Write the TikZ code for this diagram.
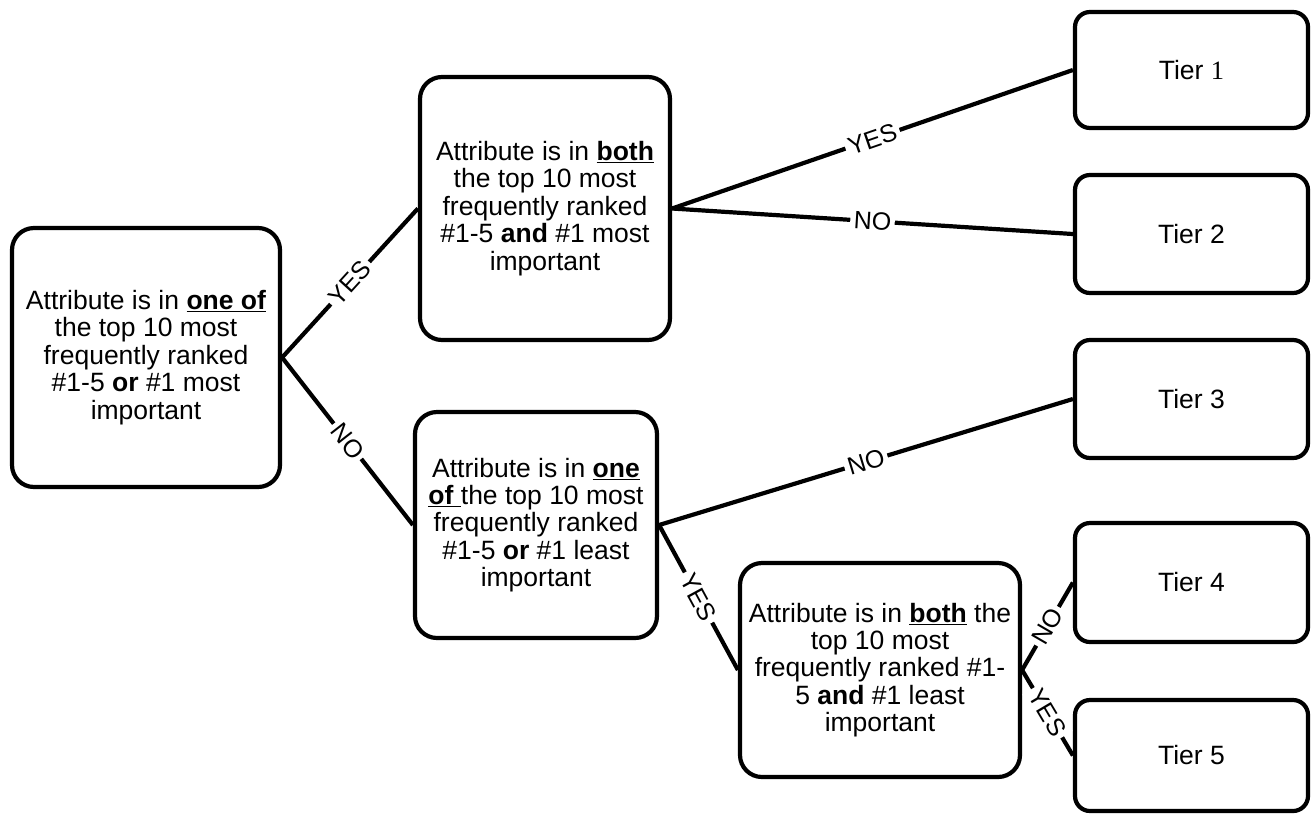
\documentclass[tikz,border=0pt]{standalone}
\usepackage{fontspec}
\setmainfont{Liberation Sans}
\newfontfamily\serifone{Liberation Serif}
\begin{document}
\begin{tikzpicture}[x=1pt,y=-1pt,line width=4.2pt,
  box/.style={draw,rounded corners=22pt,align=center,inner sep=0pt,
    font=\fontsize{26.5}{27.4}\selectfont},
  tier/.style={draw,rounded corners=15pt,minimum width=233pt,inner sep=0pt,
    font=\fontsize{26.5}{27.4}\selectfont},
  lbl/.style={midway,sloped,fill=white,inner sep=3.5pt,
    font=\fontsize{25}{25}\selectfont}]
\useasboundingbox (0,0) rectangle (1314,815);
\node[box,minimum width=268pt,minimum height=259pt] (root) at (146,357.5)
  {Attribute is in \underline{\textbf{one of}}\\the top 10 most\\frequently ranked\\\#1-5 \textbf{or} \#1 most\\important};
\node[box,minimum width=250pt,minimum height=263pt] (A) at (545,208.5)
  {Attribute is in \underline{\textbf{both}}\\the top 10 most\\frequently ranked\\\#1-5 \textbf{and} \#1 most\\important};
\node[box,minimum width=242pt,minimum height=226pt] (B) at (536,525)
  {Attribute is in \underline{\textbf{one}}\\\underline{\textbf{of\ }}the top 10 most\\frequently ranked\\\#1-5 \textbf{or} \#1 least\\important};
\node[box,minimum width=280pt,minimum height=214pt] (C) at (880,670)
  {Attribute is in \underline{\textbf{both}} the\\top 10 most\\frequently ranked \#1-\\5 \textbf{and} \#1 least\\important};
\node[tier,minimum height=116pt] (T1) at (1191.5,70) {Tier {\serifone 1}};
\node[tier,minimum height=118pt] (T2) at (1191.5,234) {Tier 2};
\node[tier,minimum height=118pt] (T3) at (1191.5,399) {Tier 3};
\node[tier,minimum height=119pt] (T4) at (1191.5,582.5) {Tier 4};
\node[tier,minimum height=111pt] (T5) at (1191.5,755.5) {Tier 5};
\draw (root.east) -- node[lbl]{YES} (A.west);
\draw (root.east) -- node[lbl]{NO} (B.west);
\draw (A.east) -- node[lbl]{YES} (T1.west);
\draw (A.east) -- node[lbl]{NO} (T2.west);
\draw (B.east) -- node[lbl]{NO} (T3.west);
\draw (B.east) -- node[lbl]{YES} (C.west);
\draw (C.east) -- node[lbl]{NO} (T4.west);
\draw (C.east) -- node[lbl]{YES} (T5.west);
\end{tikzpicture}
\end{document}
